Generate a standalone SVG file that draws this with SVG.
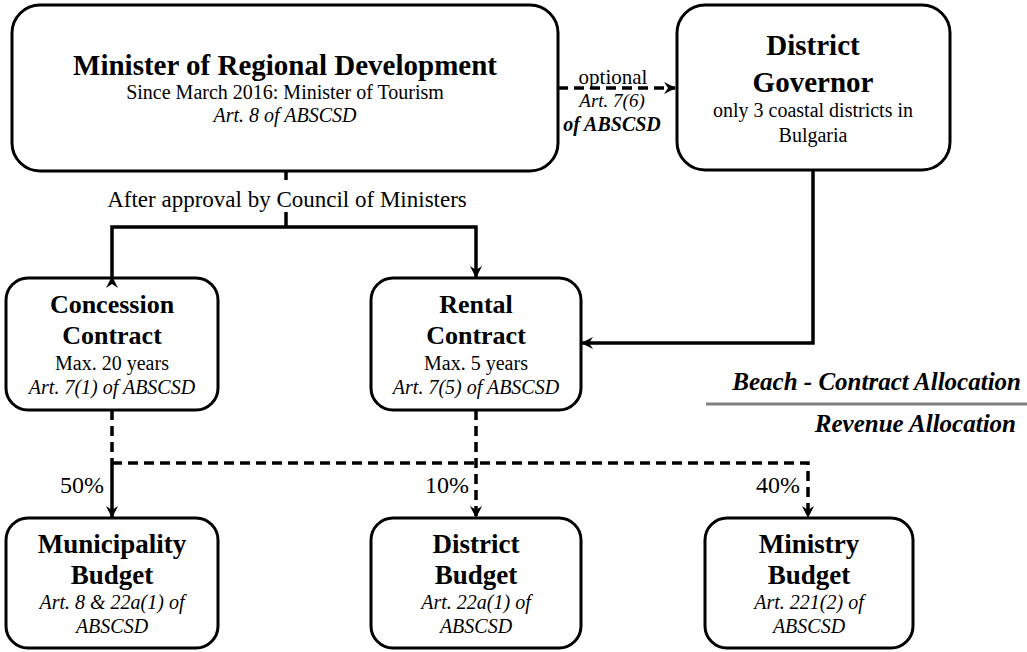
<svg xmlns="http://www.w3.org/2000/svg" width="1027" height="652" viewBox="0 0 1027 652" font-family="'Liberation Serif', 'Times New Roman', serif">
<defs>
<style>
.box{fill:#fff;stroke:#000;stroke-width:3}
.t{fill:#000;text-anchor:middle}
.h1{font-size:29px;font-weight:bold}
.h2{font-size:26px;font-weight:bold}
.h3{font-size:27px;font-weight:bold}
.n{font-size:20px}
.i{font-size:20px;font-style:italic}
.ln{fill:none;stroke:#000;stroke-width:3.5}
.ds{fill:none;stroke:#000;stroke-width:3.5;stroke-dasharray:10 6}
.lg{font-size:25px;font-weight:bold;font-style:italic;fill:#000;text-anchor:end}
.pc{font-size:24px;fill:#000;text-anchor:end}
</style>
<marker id="ah" viewBox="0 0 12 12" refX="11" refY="6" markerWidth="12" markerHeight="12" markerUnits="userSpaceOnUse" orient="auto">
<path d="M0,0 L12,6 L0,12 L4,6 z" fill="#000"/>
</marker>
</defs>
<rect width="1027" height="652" fill="#fff"/>
<g id="minister">
<rect class="box" x="12" y="5" width="546" height="166" rx="28"/>
<text class="t h1" x="285" y="75">Minister of Regional Development</text>
<text class="t n" x="285" y="99">Since March 2016: Minister of Tourism</text>
<text class="t i" x="285" y="122">Art. 8 of ABSCSD</text>
</g>
<g id="governor">
<rect class="box" x="677" y="5" width="273" height="165" rx="28"/>
<text class="t h1" x="813" y="55">District</text>
<text class="t h1" x="813" y="92">Governor</text>
<text class="t n" x="813" y="117">only 3 coastal districts in</text>
<text class="t n" x="813" y="142">Bulgaria</text>
</g>
<g id="concession">
<rect class="box" x="6" y="278" width="212" height="132" rx="22"/>
<text class="t h2" x="112" y="313">Concession</text>
<text class="t h2" x="112" y="344">Contract</text>
<text class="t n" x="112" y="370">Max. 20 years</text>
<text class="t i" x="112" y="394">Art. 7(1) of ABSCSD</text>
</g>
<g id="rental">
<rect class="box" x="371" y="278" width="210" height="132" rx="22"/>
<text class="t h2" x="476" y="313">Rental</text>
<text class="t h2" x="476" y="344">Contract</text>
<text class="t n" x="476" y="370">Max. 5 years</text>
<text class="t i" x="476" y="394">Art. 7(5) of ABSCSD</text>
</g>
<g id="municipality">
<rect class="box" x="6" y="518" width="212" height="130" rx="22"/>
<text class="t h3" x="112" y="553">Municipality</text>
<text class="t h3" x="112" y="584">Budget</text>
<text class="t i" x="112" y="609">Art. 8 &amp; 22a(1) of</text>
<text class="t i" x="112" y="633">ABSCSD</text>
</g>
<g id="district">
<rect class="box" x="371" y="518" width="210" height="130" rx="22"/>
<text class="t h3" x="476" y="553">District</text>
<text class="t h3" x="476" y="584">Budget</text>
<text class="t i" x="476" y="609">Art. 22a(1) of</text>
<text class="t i" x="476" y="633">ABSCSD</text>
</g>
<g id="ministry">
<rect class="box" x="705" y="518" width="208" height="130" rx="22"/>
<text class="t h3" x="809" y="553">Ministry</text>
<text class="t h3" x="809" y="584">Budget</text>
<text class="t i" x="809" y="609">Art. 221(2) of</text>
<text class="t i" x="809" y="633">ABSCSD</text>
</g>
<g id="connectors">
<line class="ds" x1="558" y1="88" x2="675" y2="88" marker-end="url(#ah)"/>
<text class="t" x="613" y="84" font-size="21">optional</text>
<text class="t" x="612" y="107" font-size="19" font-style="italic">Art. 7(6)</text>
<text class="t" x="612" y="131" font-size="20" font-style="italic" font-weight="bold">of ABSCSD</text>
<line class="ln" x1="286" y1="171" x2="286" y2="180"/>
<text class="t" x="287" y="207" font-size="23">After approval by Council of Ministers</text>
<polyline class="ln" points="286,212 286,227"/>
<polyline class="ln" points="112,277 112,227 476,227 476,277" marker-start="url(#ah)" marker-end="url(#ah)"/>
<polyline class="ln" points="813,170 813,343 582,343" marker-end="url(#ah)"/>
<line class="ds" x1="112" y1="410" x2="112" y2="463"/>
<line class="ln" x1="112" y1="463" x2="112" y2="517" marker-end="url(#ah)"/>
<polyline class="ds" points="112,463 808,463 808,517" marker-end="url(#ah)"/>
<line class="ds" x1="476" y1="410" x2="476" y2="517" marker-end="url(#ah)"/>
<text class="pc" x="104" y="493">50%</text>
<text class="pc" x="469" y="493">10%</text>
<text class="pc" x="800" y="493">40%</text>
</g>
<g id="legend">
<text class="lg" x="1021" y="390">Beach - Contract Allocation</text>
<line x1="706" y1="404" x2="1027" y2="404" stroke="#808080" stroke-width="3"/>
<text class="lg" x="1016" y="432">Revenue Allocation</text>
</g>
</svg>
